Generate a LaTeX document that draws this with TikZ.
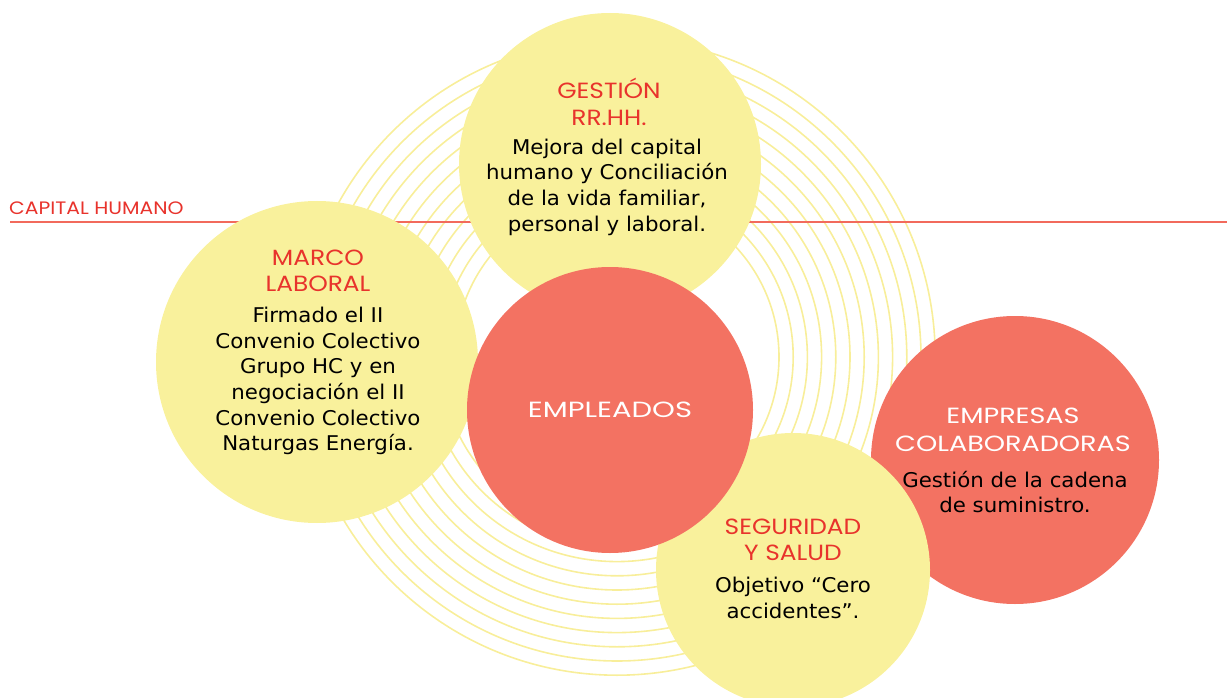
\documentclass[tikz,border=0pt]{standalone}
\usepackage{fontspec}
\setmainfont{DejaVu Sans}
\newfontfamily\bodyfont[FakeStretch=1.05]{DejaVu Sans}
\newfontfamily\headfont[FakeStretch=1.13]{Poppins}
\newfontfamily\headfontwide[FakeStretch=1.32]{Poppins}
\newfontfamily\headfontmid[FakeStretch=1.23]{Poppins}
\definecolor{ylw}{HTML}{F9F19C}
\definecolor{coral}{HTML}{F37262}
\definecolor{hred}{HTML}{E8332C}
\definecolor{ringc}{HTML}{F8EE9A}
\definecolor{linec}{HTML}{F26A5C}
\tikzset{
  ylwcircle/.style={circle, fill=ylw, inner sep=0pt},
  coralcircle/.style={circle, fill=coral, inner sep=0pt},
  head/.style={align=center, text=hred, font=\headfont\fontsize{22}{26.5}\selectfont, inner sep=0pt},
  whitehead/.style={align=center, text=white, font=\headfontwide\fontsize{22}{27.5}\selectfont, inner sep=0pt},
  whiteheadmid/.style={whitehead, font=\headfontmid\fontsize{22}{27.5}\selectfont},
  body/.style={align=center, text=black, font=\bodyfont\fontsize{20.3}{25.7}\selectfont, inner sep=0pt},
}
\begin{document}
\begin{tikzpicture}[x=1pt,y=-1pt]
\useasboundingbox (0,0) rectangle (1227,698);
% concentric rings
\foreach \i in {0,...,11}
  \draw[ringc, line width=1.6pt] (617,357) circle[radius={(162+\i*14.2)*1pt}];
% capital humano line
\coordinate (lineL) at (10,222);
\coordinate (lineR) at (1227,222);
\draw[linec, line width=2.8pt] (lineL) -- (lineR);
\node[anchor=base west, text=hred, font=\headfont\fontsize{18}{18}\selectfont, inner sep=0pt] (cap) at (9,214.5) {CAPITAL HUMANO};
% circles
\node[ylwcircle, minimum size=322pt] (marco) at (317,362) {};
\node[ylwcircle, minimum size=302pt] (gestion) at (610,164) {};
\node[coralcircle, minimum size=288pt] (empresas) at (1015,460) {};
\node[ylwcircle, minimum size=274pt] (seguridad) at (793,570) {};
\node[coralcircle, minimum size=286pt] (empleados) at (610,410) {};
% texts
\node[head] (gestionH) at (609,102) {GESTIÓN\\RR.HH.};
\node[body] (gestionB) at (607,187) {Mejora del capital\\humano y Conciliación\\de la vida familiar,\\personal y laboral.};
\node[head] (marcoH) at (318,271) {MARCO\\LABORAL};
\node[body] (marcoB) at (318,381) {Firmado el II\\Convenio Colectivo\\Grupo HC y en\\negociación el II\\Convenio Colectivo\\Naturgas Energía.};
\node[whitehead] (empleadosH) at (610,410) {EMPLEADOS};
\node[whiteheadmid] (empresasH) at (1013,430) {EMPRESAS\\COLABORADORAS};
\node[body] (empresasB) at (1015,492) {Gestión de la cadena\\de suministro.};
\node[head] (seguridadH) at (793,540) {SEGURIDAD\\Y SALUD};
\node[body] (seguridadB) at (793,598) {Objetivo “Cero\\accidentes”.};
\end{tikzpicture}
\end{document}
